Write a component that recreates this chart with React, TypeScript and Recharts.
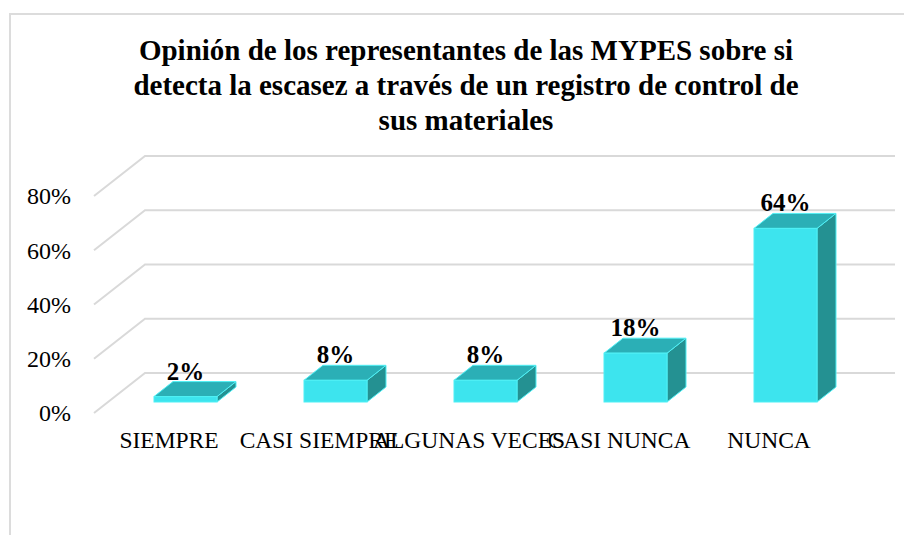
import React from "react";
import { BarChart, Bar, XAxis, YAxis, CartesianGrid, LabelList } from "recharts";

const titleLines = [
    "Opinión de los representantes de las MYPES sobre si",
    "detecta la escasez a través de un registro de control de",
    "sus materiales",
];
const categories = ["SIEMPRE", "CASI SIEMPRE", "ALGUNAS VECES", "CASI NUNCA", "NUNCA"];
const shares = [0.02, 0.08, 0.08, 0.18, 0.64];
const yTicks = [0, 0.2, 0.4, 0.6, 0.8];

const data = categories.map((c, i) => ({ name: c, value: shares[i] }));

const FONT = '"Liberation Serif", "Times New Roman", serif';
// offsets of the 3d planes relative to the bar plane
const FRONT = { dx: -16, dy: 11 };
const BACK = { dx: 35, dy: -29 };
const DEPTH = { dx: 19, dy: 15 };

const pct = (v: number) => `${Math.round(v * 100)}%`;

function GridLine(props: any) {
    const { x1, x2, y1, index } = props;
    const fx = x1 + FRONT.dx, fy = y1 + FRONT.dy;
    const bx = x1 + BACK.dx, by = y1 + BACK.dy;
    return (
        <g key={`g-${index}`}>
            <polyline
                points={`${fx},${fy} ${bx},${by} ${x2 + BACK.dx},${by}`}
                fill="none"
                stroke="#d9d9d9"
                strokeWidth={2}
            />
        </g>
    );
}

function Box3D(props: any) {
    const { x, y, width: w, height: h } = props;
    if (h == null || w == null) return null;
    const { dx, dy } = DEPTH;
    return (
        <g>
            <polygon
                points={`${x + w},${y} ${x + w + dx},${y - dy} ${x + w + dx},${y + h - dy} ${x + w},${y + h}`}
                fill="#249192"
                stroke="#4ff0f5"
                strokeWidth={1}
            />
            <polygon
                points={`${x},${y} ${x + dx},${y - dy} ${x + w + dx},${y - dy} ${x + w},${y}`}
                fill="#2bafb6"
                stroke="#4ff0f5"
                strokeWidth={1}
            />
            <rect x={x} y={y} width={w} height={h} fill="#3de4ee" stroke="#4ff0f5" strokeWidth={1} />
        </g>
    );
}

function ValueLabel(props: any) {
    const { x, y, width, value } = props;
    return (
        <text
            x={x + width / 2}
            y={y - DEPTH.dy - 2}
            textAnchor="middle"
            fontFamily={FONT}
            fontWeight="bold"
            fontSize={25}
            fill="#000"
        >
            {pct(value)}
        </text>
    );
}

function YTick(props: any) {
    const { x, y, payload } = props;
    return (
        <text
            x={x - 31}
            y={y + FRONT.dy}
            dy="0.35em"
            textAnchor="end"
            fontFamily={FONT}
            fontSize={24}
            fill="#000"
        >
            {pct(payload.value)}
        </text>
    );
}

function XTick(props: any) {
    const { x, y, payload } = props;
    return (
        <text
            x={x + FRONT.dx}
            y={y + 38}
            textAnchor="middle"
            fontFamily={FONT}
            fontSize={23.5}
            fill="#000"
        >
            {payload.value}
        </text>
    );
}

export default function App() {
    return (
        <div style={{ position: "absolute", left: 0, top: 0, width: 904, height: 535, background: "#fff", overflow: "hidden" }}>
            {/* chart frame */}
            <div
                style={{
                    position: "absolute",
                    left: 9,
                    top: 13,
                    width: 920,
                    height: 560,
                    borderTop: "2px solid #dcdcdc",
                    borderLeft: "2px solid #dcdcdc",
                }}
            />
            <div
                style={{
                    position: "absolute",
                    left: 0,
                    top: 33,
                    width: 932,
                    textAlign: "center",
                    fontFamily: FONT,
                    fontWeight: "bold",
                    fontSize: 29,
                    lineHeight: "35px",
                    color: "#000",
                }}
            >
                {titleLines.map((t) => (
                    <div key={t}>{t}</div>
                ))}
            </div>
            <div style={{ position: "absolute", left: 0, top: 0 }}>
                <BarChart
                    width={904}
                    height={535}
                    data={data}
                    margin={{ top: 185, right: 44, bottom: 93, left: 50 }}
                    barSize={63}
                >
                    <CartesianGrid vertical={false} horizontal={(p: any) => <GridLine {...p} />} />
                    <XAxis dataKey="name" axisLine={false} tickLine={false} height={40} tick={<XTick />} interval={0} />
                    <YAxis
                        type="number"
                        domain={[0, 0.8]}
                        ticks={yTicks}
                        axisLine={false}
                        tickLine={false}
                        width={60}
                        tick={<YTick />}
                    />
                    <Bar dataKey="value" shape={<Box3D />} isAnimationActive={false}>
                        <LabelList dataKey="value" content={<ValueLabel />} />
                    </Bar>
                </BarChart>
            </div>
        </div>
    );
}
